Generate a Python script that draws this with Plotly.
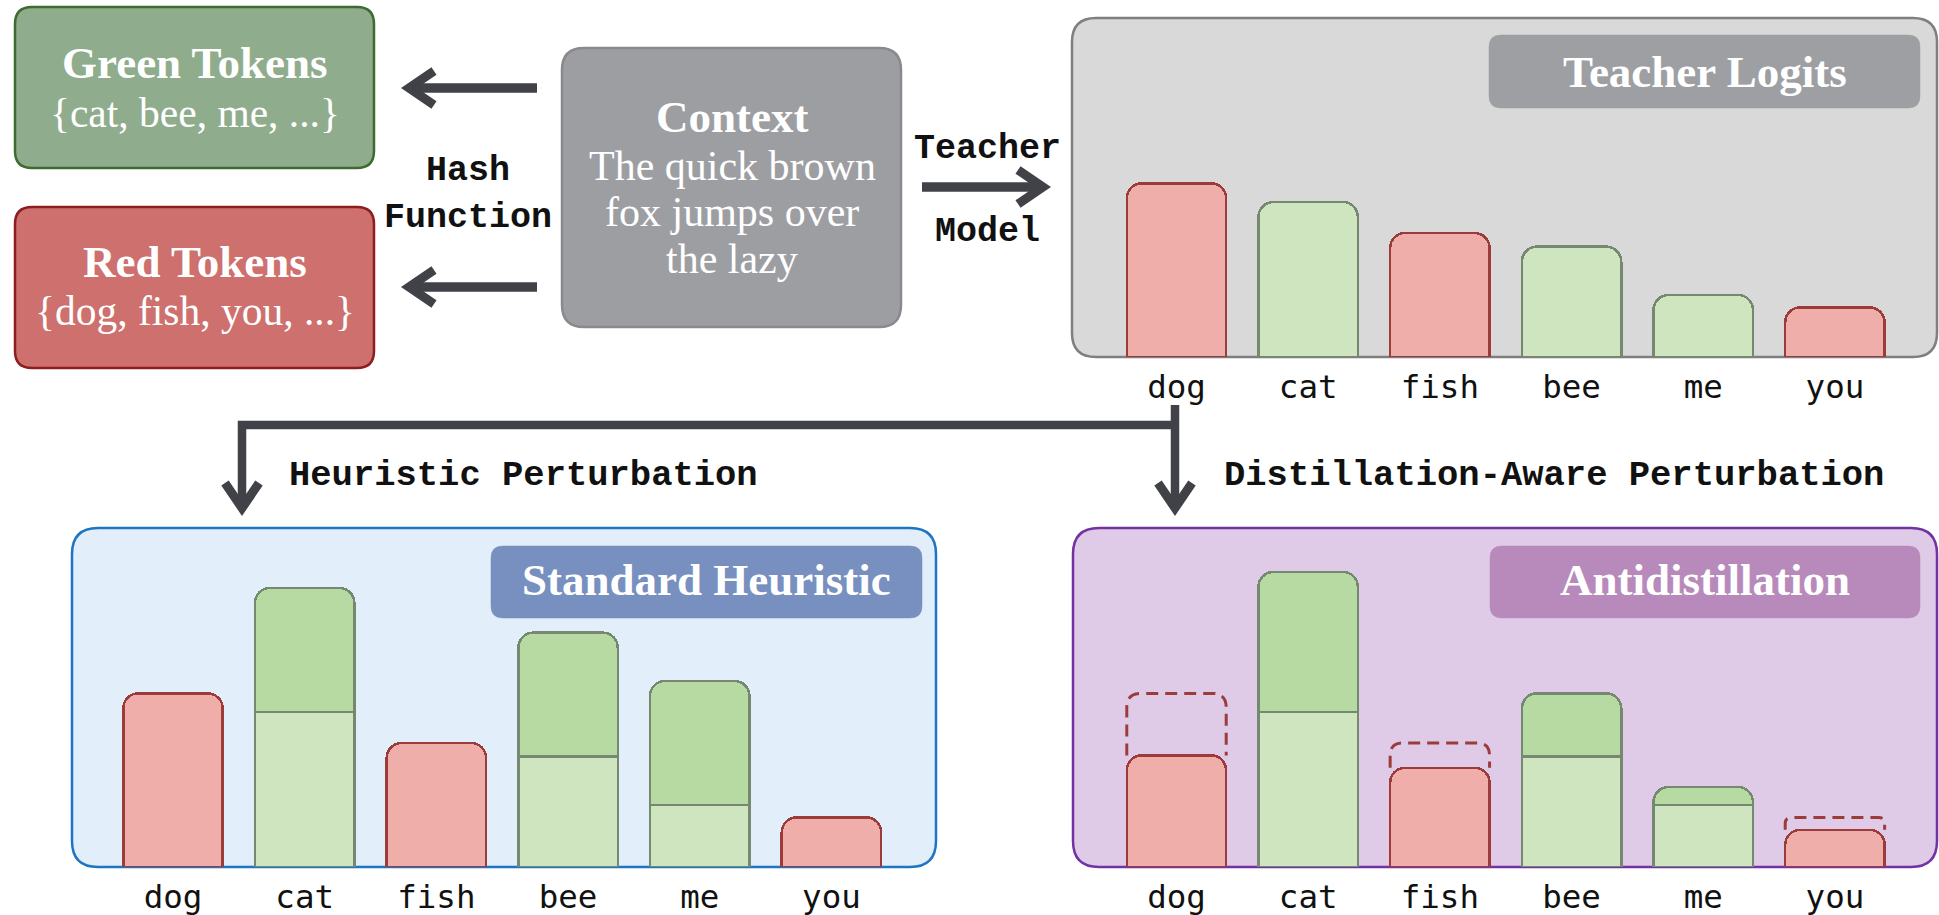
import plotly.graph_objects as go

# ---------------- data ----------------
tokens = ["dog", "cat", "fish", "bee", "me", "you"]
green_tokens = ["cat", "bee", "me"]
teacher_logits = [14.0, 12.5, 10.0, 8.9, 5.0, 4.0]
heuristic_boost = [0.0, 10.0, 0.0, 10.0, 10.0, 0.0]
antidistill_logits = [9.0, 23.8, 8.0, 14.0, 6.45, 3.0]

green_set_text = "{cat, bee, me, ...}"
red_set_text = "{dog, fish, you, ...}"
context_lines = ["The quick brown", "fox jumps over", "the lazy"]

# ---------------- styles ----------------
W, H = 1939, 915
SERIF = "Liberation Serif"
MONO = "Liberation Mono"
TICKMONO = "DejaVu Sans Mono"
RED_FILL, RED_LINE = "#f0aeab", "#9b3c3a"
LG_FILL, DG_FILL, G_LINE = "#cfe5c0", "#b7d9a2", "#74896f"
ARROW = "#414248"
PX_PER_UNIT = 12.4
BARGAP = 0.245


def px(x):
    return x / W


def py(y):
    return 1 - y / H


def rrect(x0, y0, x1, y1, r, fill, line, lw):
    pts = [
        ("M", x0 + r, y0), ("L", x1 - r, y0), ("Q", x1, y0, x1, y0 + r),
        ("L", x1, y1 - r), ("Q", x1, y1, x1 - r, y1), ("L", x0 + r, y1),
        ("Q", x0, y1, x0, y1 - r), ("L", x0, y0 + r), ("Q", x0, y0, x0 + r, y0),
    ]
    s = ""
    for p in pts:
        cmd = p[0]
        coords = p[1:]
        cs = []
        for i in range(0, len(coords), 2):
            cs.append(f"{px(coords[i]):.6f},{py(coords[i+1]):.6f}")
        s += cmd + " " + " ".join(cs) + " "
    s += "Z"
    return dict(type="path", xref="paper", yref="paper", path=s,
                fillcolor=fill, line=dict(color=line, width=lw), layer="below")


def poly(points, color, width, layer="above"):
    s = "M " + " L ".join(f"{px(x):.6f},{py(y):.6f}" for x, y in points)
    return dict(type="path", xref="paper", yref="paper", path=s,
                fillcolor="rgba(0,0,0,0)", line=dict(color=color, width=width),
                layer=layer)


def text(x, baseline, t, size, family, color, bold=False, xanchor="center"):
    off = 0.3375 if family == SERIF else 0.2665
    return dict(xref="paper", yref="paper", x=px(x), y=py(baseline - off * size),
                text=(f"<b>{t}</b>" if bold else t), showarrow=False,
                xanchor=xanchor, yanchor="middle",
                font=dict(family=family, size=size, color=color))


shapes = []
annotations = []

# ---------------- top-left boxes ----------------
shapes.append(rrect(15, 7, 374, 168, 17, "#8fad8d", "#3f6b30", 2.5))
shapes.append(rrect(15, 207, 374, 368, 17, "#cd706e", "#8e1d20", 2.5))
shapes.append(rrect(562, 48, 901, 327, 22, "#9d9ea2", "#8a8a8d", 2.5))

annotations.append(text(194.5, 78, "Green Tokens", 45, SERIF, "white", bold=True))
annotations.append(text(194.5, 127, green_set_text, 41.5, SERIF, "white"))
annotations.append(text(194.5, 277, "Red Tokens", 45, SERIF, "white", bold=True))
annotations.append(text(194.5, 325, red_set_text, 41.5, SERIF, "white"))
annotations.append(text(732, 132, "Context", 45, SERIF, "white", bold=True))
for i, ln in enumerate(context_lines):
    annotations.append(text(732, 180 + 46.5 * i, ln, 42, SERIF, "white"))
annotations.append(text(468, 180, "Hash", 35, MONO, "#111111", bold=True))
annotations.append(text(468, 227, "Function", 35, MONO, "#111111", bold=True))
annotations.append(text(988, 158, "Teacher", 35, MONO, "#111111", bold=True))
annotations.append(text(988, 241, "Model", 35, MONO, "#111111", bold=True))

# arrows
for yc in (88, 287):
    shapes.append(poly([(537, yc), (410, yc)], ARROW, 9.5))
    shapes.append(poly([(434, yc - 17), (409, yc), (434, yc + 17)], ARROW, 9))
shapes.append(poly([(922, 187), (1043, 187)], ARROW, 9.5))
shapes.append(poly([(1018, 170), (1043, 187), (1018, 204)], ARROW, 9))

# connector + down arrows
shapes.append(poly([(242, 508), (242, 425), (1179, 425)], ARROW, 8.5))
shapes.append(poly([(1175, 405), (1175, 508)], ARROW, 8.5))
for xc in (242, 1175):
    shapes.append(poly([(xc - 17, 483), (xc, 508), (xc + 17, 483)], ARROW, 9))
annotations.append(text(287, 485, "Heuristic Perturbation", 35.5, MONO, "#111111", bold=True, xanchor="left"))
annotations.append(text(1222, 485, "Distillation-Aware Perturbation", 35.5, MONO, "#111111", bold=True, xanchor="left"))

# ---------------- panels ----------------
shapes.append(rrect(1072, 18, 1937, 357, 24, "#d9d9d9", "#7f7f7f", 2.5))
shapes.append(rrect(1489, 35, 1920, 108, 12, "#9e9fa3", "#9e9fa3", 0.5))
annotations.append(text(1704.5, 87, "Teacher Logits", 45, SERIF, "white", bold=True))

shapes.append(rrect(72, 528, 936, 867, 26, "#e2eef9", "#1e76c3", 2.5))
shapes.append(rrect(491, 546, 922, 618, 12, "#7790bf", "#7790bf", 0.5))
annotations.append(text(706.5, 595, "Standard Heuristic", 45, SERIF, "white", bold=True))

shapes.append(rrect(1073, 528, 1937, 867, 26, "#dfcbe8", "#7232a2", 2.5))
shapes.append(rrect(1490, 546, 1920, 618, 12, "#b78abb", "#b78abb", 0.5))
annotations.append(text(1705, 595, "Antidistillation", 45, SERIF, "white", bold=True))

# ---------------- bars ----------------
is_green = [t in green_tokens for t in tokens]
xs = list(range(len(tokens)))
base_fill = [LG_FILL if g else RED_FILL for g in is_green]
base_line = [G_LINE if g else RED_LINE for g in is_green]

fig = go.Figure()

# teacher
fig.add_trace(go.Bar(x=xs, y=teacher_logits, xaxis="x", yaxis="y",
                     marker=dict(color=base_fill, line=dict(color=base_line, width=2.5)),
                     hoverinfo="skip"))
# heuristic
fig.add_trace(go.Bar(x=xs, y=teacher_logits, xaxis="x2", yaxis="y2",
                     marker=dict(color=base_fill, line=dict(color=base_line, width=2.5)),
                     hoverinfo="skip"))
fig.add_trace(go.Bar(x=xs, y=[b if g else None for b, g in zip(heuristic_boost, is_green)],
                     xaxis="x2", yaxis="y2",
                     marker=dict(color=DG_FILL, line=dict(color=G_LINE, width=2.5)),
                     hoverinfo="skip"))
# antidistillation
anti_base = [t if g else a for t, a, g in zip(teacher_logits, antidistill_logits, is_green)]
anti_boost = [(a - t) if g else None for t, a, g in zip(teacher_logits, antidistill_logits, is_green)]
fig.add_trace(go.Bar(x=xs, y=anti_base, xaxis="x3", yaxis="y3",
                     marker=dict(color=base_fill, line=dict(color=base_line, width=2.5)),
                     hoverinfo="skip"))
fig.add_trace(go.Bar(x=xs, y=anti_boost, xaxis="x3", yaxis="y3",
                     marker=dict(color=DG_FILL, line=dict(color=G_LINE, width=2.5)),
                     hoverinfo="skip"))

# dashed outlines of original teacher logits for suppressed red tokens
slot_px = 790.1 / 6
half = (1 - BARGAP) / 2
for i, (t, a, g) in enumerate(zip(teacher_logits, antidistill_logits, is_green)):
    if g or a >= t:
        continue
    r_px = min(14, 0.5 * (t - a) * PX_PER_UNIT)
    rx = r_px / slot_px
    ry = r_px / PX_PER_UNIT
    x0, x1 = i - half, i + half
    path = (f"M {x0},{a} L {x0},{t - ry} Q {x0},{t} {x0 + rx},{t} "
            f"L {x1 - rx},{t} Q {x1},{t} {x1},{t - ry} L {x1},{a}")
    shapes.append(dict(type="path", xref="x3", yref="y3", path=path,
                       fillcolor="rgba(0,0,0,0)",
                       line=dict(color=RED_LINE, width=3, dash="12px,7px"),
                       layer="above"))

xa = dict(range=[-0.5, 5.5], tickvals=xs, ticktext=tokens, showgrid=False,
          zeroline=False, showline=False, ticks="", fixedrange=True,
          ticklabelstandoff=7,
          tickfont=dict(family=TICKMONO, size=32.5, color="#111111"))
ya = dict(showgrid=False, zeroline=False, showline=False, visible=False, fixedrange=True)

top_dom_x = [px(1110.65), px(1900.75)]
bl_dom_x = [px(107.15), px(897.25)]
top_ymax, bot_ymax = 20, 26

fig.update_layout(
    width=W, height=H, margin=dict(l=0, r=0, t=0, b=0),
    paper_bgcolor="white", plot_bgcolor="rgba(0,0,0,0)",
    showlegend=False, barmode="stack", bargap=BARGAP, barcornerradius=15,
    xaxis=dict(xa, domain=top_dom_x, anchor="y"),
    yaxis=dict(ya, range=[0, top_ymax], anchor="x",
               domain=[py(357), py(357 - top_ymax * PX_PER_UNIT)]),
    xaxis2=dict(xa, domain=bl_dom_x, anchor="y2"),
    yaxis2=dict(ya, range=[0, bot_ymax], anchor="x2",
                domain=[py(867), py(867 - bot_ymax * PX_PER_UNIT)]),
    xaxis3=dict(xa, domain=top_dom_x, anchor="y3"),
    yaxis3=dict(ya, range=[0, bot_ymax], anchor="x3",
                domain=[py(867), py(867 - bot_ymax * PX_PER_UNIT)]),
    shapes=shapes, annotations=annotations,
)

fig.write_html("out.html", config={"displayModeBar": False},
               post_script="document.body.style.margin='0';document.body.style.overflow='hidden';")
